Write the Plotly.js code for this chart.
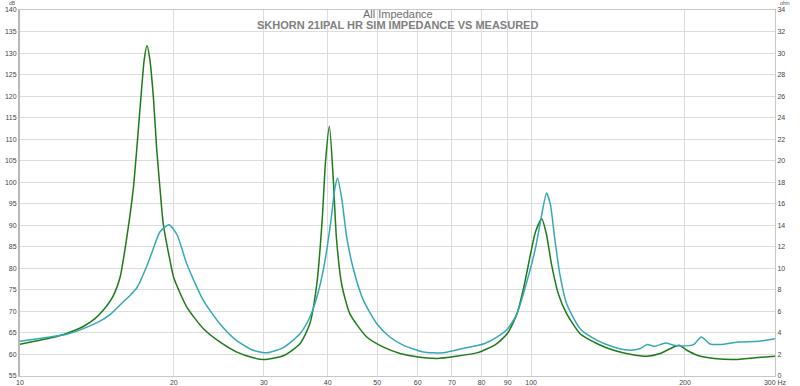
<!DOCTYPE html>
<html><head><meta charset="utf-8">
<script src="https://cdn.plot.ly/plotly-3.0.1.min.js"></script>
<style>html,body{margin:0;padding:0;background:#fff}#c{width:800px;height:386px}</style>
</head><body><div id="c"></div>
<script>
// Simulated impedance (ohm) - dark green
const simFreq = [10,10.5,11,11.5,12.3,13.3,14,14.6,15.2,15.7,16.17,16.66,17.17,17.5,17.72,17.95,18.25,18.51,18.79,19.07,19.66,20,21.2,22.85,24.6,26.5,28.6,30,32.75,35.3,36.9,38.07,39.0,39.6,40.3,41.0,41.6,42.6,44.2,47.7,51.3,55.4,59.7,65.5,71.4,78.2,80,85.7,90,93.8,96.7,99.7,102,104.9,107.2,109.6,113.1,117.4,124.7,134.7,145,156.2,168.6,178.8,187.2,194.7,201.7,211.3,228.2,250.2,274.5,300];
const simOhm = [2.95,3.15,3.35,3.55,3.93,4.6,5.3,6.2,7.4,9.2,12.8,17.4,24.8,29.4,30.7,29.4,25.7,21.1,17.4,14.1,10.7,9.1,6.4,4.39,3.16,2.24,1.69,1.53,1.88,3.0,4.85,8.5,14.4,19.9,23.2,18.4,12.8,8.5,5.77,3.62,2.7,2.09,1.78,1.63,1.84,2.15,2.3,3.0,4.0,5.77,8.2,11.3,13.4,14.6,13.1,10.4,7.6,5.77,3.93,3.0,2.39,2.03,1.84,2.09,2.55,2.85,2.39,1.93,1.63,1.53,1.69,1.84];
// Measured impedance (ohm) - teal
const measFreq = [10,11.45,12.34,13.3,14.34,15.0,15.69,16.43,16.93,17.7,18.25,18.79,19.57,20.3,21.2,22.85,24.6,26.5,28.6,30.4,32.75,35.3,36.9,38.07,39.3,40.5,41.3,41.8,42.6,43.6,45.0,47.0,49.9,52.9,56.3,61.5,67.3,73.6,80.9,85.7,90,93.8,98.2,102,104.9,107.2,109.1,111.2,113.8,117.4,124.7,134.7,145,156.2,163.6,168.6,174.8,183.1,190.2,196.3,208,215.3,223.4,234.6,254,278.8,300];
const measOhm = [3.22,3.62,3.87,4.4,5.1,5.7,6.6,7.5,8.2,10.2,11.9,13.4,14.06,13.1,10.4,7.0,4.85,3.31,2.39,2.15,2.64,3.93,5.46,7.3,10.1,14.1,17.4,18.4,16.5,12.8,9.76,7.0,4.85,3.62,2.85,2.24,2.15,2.55,3.0,3.62,4.4,5.77,8.84,11.9,15.0,17.0,15.9,12.8,9.46,6.69,4.39,3.31,2.7,2.39,2.55,2.92,2.76,3.07,2.85,2.79,2.92,3.62,3.0,2.92,3.16,3.22,3.47];
const xTickVals = [10,20,30,40,50,60,70,80,90,100,200,300];
const xTickText = ['10','20','30','40','50','60','70','80','90','100','200','300 Hz'];
const dbRange = [55,140];
const ohmRange = [0,34];

const tickFont = {family:'Liberation Sans, Arial, sans-serif', size:7, color:'#444'};
const traces = [
  // invisible anchor so the left dB axis is drawn
  {x: [xTickVals[0], xTickVals[xTickVals.length-1]], y: dbRange, yaxis:'y', mode:'lines', line:{width:0}, opacity:0, hoverinfo:'skip'},
  {x: simFreq, y: simOhm, yaxis:'y2', mode:'lines', line:{color:'#1f7a1a', width:1.5, shape:'spline', smoothing:0.6}, hoverinfo:'skip'},
  {x: measFreq, y: measOhm, yaxis:'y2', mode:'lines', line:{color:'#35a9b3', width:1.5, shape:'spline', smoothing:0.6}, hoverinfo:'skip'}
];
const layout = {
  width:800, height:386, showlegend:false,
  paper_bgcolor:'#fff', plot_bgcolor:'#fff',
  margin:{l:20, r:25, t:10, b:10, pad:0},
  xaxis:{type:'log', range:[1, Math.log10(300)], tickvals:xTickVals, ticktext:xTickText,
    showgrid:true, gridcolor:'#dcdcdc', gridwidth:1, zeroline:false, ticks:'', tickfont:tickFont,
    showline:true, linecolor:'#c8c8c8', linewidth:1, mirror:true, fixedrange:true},
  yaxis:{range:dbRange, dtick:5, tick0:55, showgrid:true, gridcolor:'#dcdcdc', gridwidth:1,
    zeroline:false, ticks:'', tickfont:tickFont, showline:true, linecolor:'#b8b8b8', linewidth:2, fixedrange:true},
  yaxis2:{range:ohmRange, dtick:2, tick0:0, overlaying:'y', side:'right', showgrid:false, zeroline:false,
    ticks:'', tickfont:tickFont, showline:true, linecolor:'#c8c8c8', linewidth:1, fixedrange:true},
  annotations:[
    {text:'All Impedance', xref:'paper', yref:'paper', x:0.5, y:1, yshift:4, xanchor:'center', yanchor:'top', showarrow:false,
     font:{family:'Liberation Sans, Arial, sans-serif', size:11, color:'#6e6e6e'}},
    {text:'<b>SKHORN 21IPAL HR SIM IMPEDANCE VS MEASURED</b>', xref:'paper', yref:'paper', x:0.5, y:1, yshift:-7, xanchor:'center', yanchor:'top', showarrow:false,
     font:{family:'Liberation Sans, Arial, sans-serif', size:11, color:'#7f7f7f'}},
    {text:'dB', xref:'paper', yref:'paper', x:0, xshift:-8, y:1, yshift:11, xanchor:'center', yanchor:'top', showarrow:false, borderpad:0,
     font:{family:'Liberation Sans, Arial, sans-serif', size:5, color:'#555'}},
    {text:'ohm', xref:'paper', yref:'paper', x:1, xshift:10, y:1, yshift:11, xanchor:'center', yanchor:'top', showarrow:false, borderpad:0,
     font:{family:'Liberation Sans, Arial, sans-serif', size:5, color:'#555'}}
  ]
};
Plotly.newPlot('c', traces, layout, {staticPlot:true, displayModeBar:false});
</script></body></html>
